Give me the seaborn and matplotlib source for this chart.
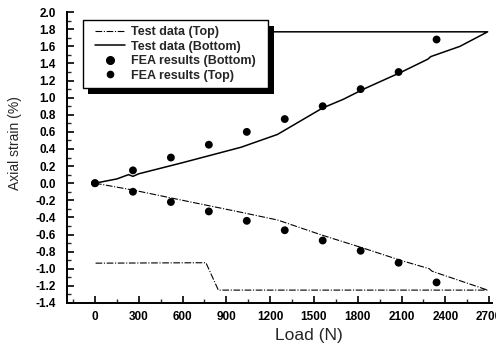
import matplotlib
matplotlib.use("Agg")
import matplotlib.pyplot as plt
import seaborn as sns
import numpy as np
import pandas as pd
from matplotlib.ticker import MultipleLocator, FormatStrFormatter
from matplotlib.patches import Rectangle
from matplotlib.lines import Line2D

# ---- data ----
test_bottom_load = [0, 150, 230, 260, 300, 600, 1000, 1250, 1400, 1560, 1700, 1840, 2100, 2280, 2300, 2500, 2690, 800]
test_bottom_strain = [0, 0.05, 0.10, 0.08, 0.11, 0.24, 0.42, 0.57, 0.72, 0.88, 0.98, 1.10, 1.30, 1.45, 1.48, 1.60, 1.77, 1.77]

test_top_load = [0, 260, 600, 1000, 1250, 1560, 1840, 2090, 2290, 2310, 2690, 2690, 845, 760, 0]
test_top_strain = [0, -0.08, -0.20, -0.34, -0.43, -0.61, -0.76, -0.90, -1.00, -1.03, -1.25, -1.25, -1.25, -0.93, -0.935]

fea_load = [0, 260, 520, 780, 1040, 1300, 1560, 1820, 2080, 2340]
fea_bottom = [0, 0.15, 0.30, 0.45, 0.60, 0.75, 0.90, 1.10, 1.30, 1.68]
fea_top = [0, -0.10, -0.22, -0.33, -0.44, -0.55, -0.67, -0.79, -0.93, -1.16]

x_ticks = [0, 300, 600, 900, 1200, 1500, 1800, 2100, 2400, 2700]
legend_labels = ["Test data (Top)", "Test data (Bottom)", "FEA results (Bottom)", "FEA results (Top)"]

sns.set_style("ticks")
plt.rcParams["font.family"] = ["Liberation Sans", "DejaVu Sans"]
plt.rcParams["axes.unicode_minus"] = False

fig = plt.figure(figsize=(4.96, 3.47), dpi=100)
ax = fig.add_axes([0.135, 0.127, 0.857, 0.838])

df_tb = pd.DataFrame({"load": test_bottom_load, "strain": test_bottom_strain})
df_tt = pd.DataFrame({"load": test_top_load, "strain": test_top_strain})
df_f = pd.DataFrame({"load": fea_load, "bottom": fea_bottom, "top": fea_top})

dashdot = (0, (6, 1.5, 1, 1.5))
sns.lineplot(data=df_tt, x="load", y="strain", sort=False, estimator=None, ax=ax,
             color="black", lw=0.8, linestyle=dashdot)
sns.lineplot(data=df_tb, x="load", y="strain", sort=False, estimator=None, ax=ax,
             color="black", lw=1.1)
sns.scatterplot(data=df_f, x="load", y="bottom", ax=ax, color="black", s=32,
                edgecolor="none", zorder=3)
sns.scatterplot(data=df_f, x="load", y="top", ax=ax, color="black", s=32,
                edgecolor="none", zorder=3)

ax.set_xlim(-192, 2720)
ax.set_ylim(-1.4, 2.0)
ax.set_xticks(x_ticks)
ax.xaxis.set_minor_locator(MultipleLocator(150))
ax.yaxis.set_major_locator(MultipleLocator(0.2))
ax.yaxis.set_minor_locator(MultipleLocator(0.1))
ax.yaxis.set_major_formatter(FormatStrFormatter("%.1f"))
ax.tick_params(axis="both", which="major", direction="in", length=5, width=1.2,
               labelsize=8.5, colors="black")
ax.tick_params(axis="both", which="minor", direction="in", length=3, width=1.0)
ax.tick_params(axis="x", pad=6)
ax.tick_params(axis="y", pad=8)
for lab in ax.get_xticklabels() + ax.get_yticklabels():
    lab.set_fontweight("bold")
for sp in ["top", "right"]:
    ax.spines[sp].set_visible(False)
for sp in ["left", "bottom"]:
    ax.spines[sp].set_linewidth(1.4)
    ax.spines[sp].set_color("black")

ax.set_xlabel("Load (N)", fontsize=12.5)
ax.set_ylabel("Axial strain (%)", fontsize=10)
ax.xaxis.set_label_coords(0.57, -0.085)
ax.yaxis.set_label_coords(-0.105, 0.55)

handles = [
    Line2D([], [], color="black", lw=0.8, linestyle=dashdot),
    Line2D([], [], color="black", lw=1.1),
    Line2D([], [], color="black", marker="o", linestyle="none", markersize=5.5),
    Line2D([], [], color="black", marker="o", linestyle="none", markersize=4.5),
]
leg = ax.legend(handles, legend_labels, loc="upper left", bbox_to_anchor=(0.066, 0.952),
                borderaxespad=0, borderpad=0, prop={"size": 9, "weight": "bold"},
                frameon=False, handlelength=2.4, handletextpad=0.5, labelspacing=0.2)
leg.set_zorder(6)

# legend frame with solid black drop shadow
fx0, fx1 = 0.0376, 0.473
fy0, fy1 = 0.739, 0.9725
shadow = Rectangle((fx0 + 0.013, fy0 - 0.019), fx1 - fx0, fy1 - fy0,
                   transform=ax.transAxes, facecolor="black", edgecolor="none",
                   zorder=4.5, clip_on=False)
frame = Rectangle((fx0, fy0), fx1 - fx0, fy1 - fy0, transform=ax.transAxes,
                  facecolor="white", edgecolor="black", lw=1.0, zorder=5,
                  clip_on=False)
ax.add_patch(shadow)
ax.add_patch(frame)

fig.savefig("out.png", dpi=100)
